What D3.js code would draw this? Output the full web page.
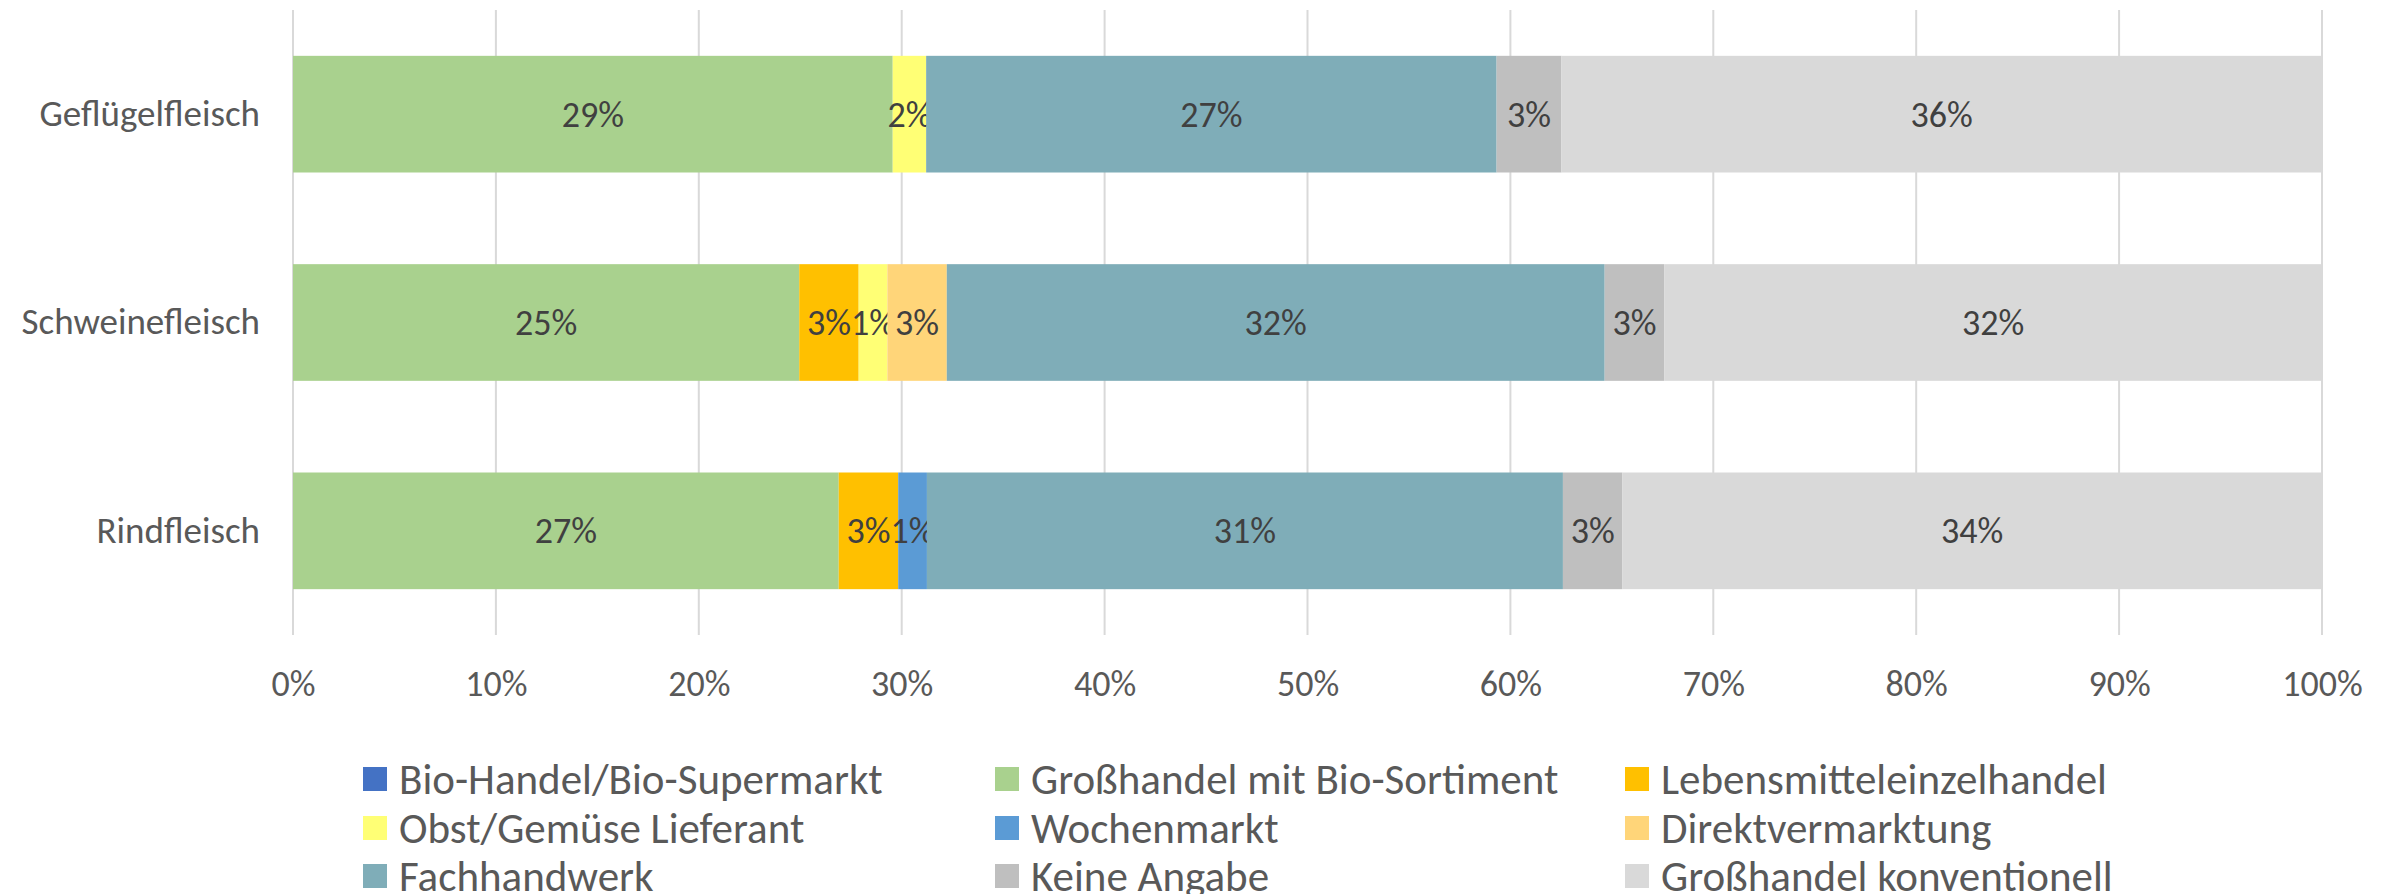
<!DOCTYPE html>
<html>
<head>
<meta charset="utf-8">
<script src="https://cdn.jsdelivr.net/npm/d3@7"></script>
<style>
  body { margin: 0; background: #fff; }
  svg text { font-family: Carlito, Calibri, "Liberation Sans Narrow", "DejaVu Sans Condensed", sans-serif; }
</style>
</head>
<body>
<div id="chart"></div>
<script>
// categories (top to bottom)
const categories = ["Geflügelfleisch", "Schweinefleisch", "Rindfleisch"];

// series in legend / stacking order
const seriesNames = [
  "Bio-Handel/Bio-Supermarkt",
  "Großhandel mit Bio-Sortiment",
  "Lebensmitteleinzelhandel",
  "Obst/Gemüse Lieferant",
  "Wochenmarkt",
  "Direktvermarktung",
  "Fachhandwerk",
  "Keine Angabe",
  "Großhandel konventionell"
];
const seriesColors = ["#4472C4", "#A9D18E", "#FFC000", "#FFFF75", "#5B9BD5", "#FFD579", "#7FADB8", "#BFBFBF", "#D9D9D9"];

// shares (%) per series, in category order
const bioHandel       = [0, 0, 0];
const grosshandelBio  = [28.7, 24.7, 26.6];
const leh             = [0, 2.9, 2.9];
const obstGemuese     = [1.6, 1.4, 0];
const wochenmarkt     = [0, 0, 1.4];
const direkt          = [0, 2.9, 0];
const fachhandwerk    = [27.3, 32.1, 31.0];
const keineAngabe     = [3.1, 2.9, 2.9];
const grosshandelKonv = [36.4, 32.1, 34.1];

const xTicks = [0, 0.1, 0.2, 0.3, 0.4, 0.5, 0.6, 0.7, 0.8, 0.9, 1];

const seriesValues = [bioHandel, grosshandelBio, leh, obstGemuese, wochenmarkt, direkt, fachhandwerk, keineAngabe, grosshandelKonv];

const W = 2394, H = 894;
const margin = {top: 10, right: 72, bottom: 259, left: 293};
const width = W - margin.left - margin.right,
      height = H - margin.top - margin.bottom;

const table = categories.map((c, i) => {
  const row = {cat: c};
  seriesNames.forEach((s, j) => { row[s] = seriesValues[j][i]; });
  return row;
});

// 100% stacked
const stacked = d3.stack()
  .keys(seriesNames)
  .offset(d3.stackOffsetExpand)(table);

const svg = d3.select("#chart").append("svg")
    .attr("width", W)
    .attr("height", H);

const g = svg.append("g")
    .attr("transform", "translate(" + margin.left + "," + margin.top + ")");

const x = d3.scaleLinear().domain([0, 1]).range([0, width]);
const y = d3.scaleBand().domain(categories).range([0, height])
    .paddingInner(0.44).paddingOuter(0.22);

// gridlines
g.append("g")
  .selectAll("line")
  .data(xTicks)
  .join("line")
    .attr("x1", d => x(d)).attr("x2", d => x(d))
    .attr("y1", 0).attr("y2", height)
    .attr("stroke", "#D9D9D9")
    .attr("stroke-width", 2);

// bars
const layer = g.selectAll(".layer")
  .data(stacked)
  .join("g")
    .attr("class", "layer")
    .attr("fill", (d, i) => seriesColors[i]);

layer.selectAll("rect")
  .data(d => d)
  .join("rect")
    .attr("x", d => x(d[0]))
    .attr("width", d => x(d[1]) - x(d[0]))
    .attr("y", d => y(d.data.cat))
    .attr("height", y.bandwidth());

// data labels (skip empty segments)
layer.each(function (s, i) {
  d3.select(this).selectAll("text")
    .data(s.filter(d => seriesValues[i][categories.indexOf(d.data.cat)] > 0))
    .join("text")
      .attr("x", d => x((d[0] + d[1]) / 2))
      .attr("y", d => y(d.data.cat) + y.bandwidth() / 2)
      .attr("dy", "0.35em")
      .attr("text-anchor", "middle")
      .attr("fill", "#404040")
      .style("font-size", "36px")
      .text(d => Math.round(seriesValues[i][categories.indexOf(d.data.cat)]) + "%");
});

// y axis labels
const yAxis = g.append("g")
  .call(d3.axisLeft(y).tickSize(0).tickPadding(33));
yAxis.select(".domain").remove();
yAxis.selectAll("text")
  .attr("fill", "#595959")
  .style("font-size", "37px")
  .style("font-family", null);

// x axis
const xAxis = g.append("g")
  .attr("transform", "translate(0," + height + ")")
  .call(d3.axisBottom(x).tickValues(xTicks).tickFormat(d3.format(".0%")).tickSize(0).tickPadding(35));
xAxis.select(".domain").remove();
xAxis.selectAll("text")
  .attr("fill", "#595959")
  .style("font-size", "36px")
  .style("font-family", null);

// legend, 3 columns
const legendX = [363, 995, 1625];
const legendY = [779, 828, 876];
const legend = svg.append("g")
  .selectAll("g")
  .data(seriesNames)
  .join("g")
    .attr("transform", (d, i) => "translate(" + legendX[i % 3] + "," + legendY[Math.floor(i / 3)] + ")");

legend.append("rect")
  .attr("x", 0).attr("y", -12)
  .attr("width", 24).attr("height", 24)
  .attr("fill", (d, i) => seriesColors[i]);

legend.append("text")
  .attr("x", 36)
  .attr("dy", "0.35em")
  .attr("fill", "#595959")
  .style("font-size", "43px")
  .text(d => d);
</script>
</body>
</html>
